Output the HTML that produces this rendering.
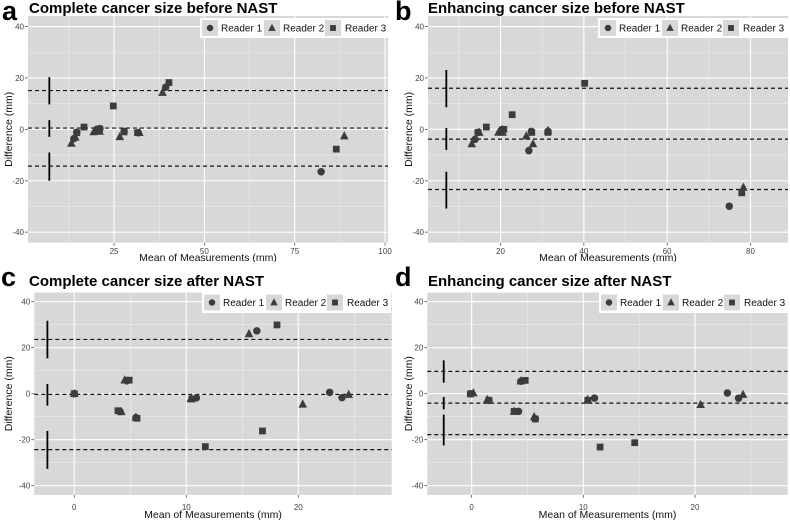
<!DOCTYPE html>
<html><head><meta charset="utf-8">
<style>
html,body{margin:0;padding:0;background:#fff;}
svg{display:block;font-family:"Liberation Sans",Arial,sans-serif;}
</style></head>
<body>
<svg id="fig" width="790" height="520" viewBox="0 0 790 520"></svg>
<script>
// ---------- data ----------
const yTicks = [-40,-20,0,20,40];
const panelTitles = ["Complete cancer size before NAST","Enhancing cancer size before NAST","Complete cancer size after NAST","Enhancing cancer size after NAST"];
const panelLetters = ["a","b","c","d"];
const readerNames = ["Reader 1","Reader 2","Reader 3"];

const aXTicks = [25,50,75,100];
const aR1Mean = [13.9,20.2,27.8,31.7,39.3,82.3,14.7,21.1];
const aR1Diff = [-3.6,0,-0.8,-1.3,16.4,-16.5,-1.2,0.3];
const aR2Mean = [13.2,19.4,21,26.6,32,38.4,88.7,14.3];
const aR2Diff = [-5.5,-1,-0.8,-2.9,-1.3,14.3,-2.6,-3.1];
const aR3Mean = [14.7,16.7,21,24.8,27.8,31.5,40.2,86.5];
const aR3Diff = [-1.3,0.9,0.1,9.1,-1,-1.3,18.2,-7.7];
const aLines = [15.1,0.5,-14.3];
const aCiX = 7.1;
const aCiTop = [20.3,3.6,-9];
const aCiBottom = [9.7,-2.9,-20];

const bXTicks = [20,40,60,80];
const bR1Mean = [13.9,20.4,26.8,27.4,31.4,74.9,14.6];
const bR1Diff = [-3.9,0,-8.3,-0.8,-0.8,-29.9,-1.2];
const bR2Mean = [13.1,19.5,20.5,26.2,27.8,31.4,78.3,14.9];
const bR2Diff = [-5.7,-1.2,-1.2,-2.6,-5.7,-0.5,-22.6,-1.2];
const bR3Mean = [14.6,16.6,20.8,22.8,27.5,31.4,40.2,77.9];
const bR3Diff = [-1.2,0.9,0,5.7,-1.2,-1.2,17.9,-24.7];
const bLines = [16,-3.8,-23.4];
const bCiX = 7;
const bCiTop = [23.1,0.5,-16.5];
const bCiBottom = [8.6,-8,-30.8];

const cXTicks = [0,10,20];
const cR1Mean = [0,4.7,4.1,5.5,10.9,16.3,22.8,23.9];
const cR1Diff = [0,5.6,-7.8,-10.4,-1.8,27.3,0.6,-1.7];
const cR2Mean = [0,4.5,4.2,5.5,10.4,15.6,20.4,24.5];
const cR2Diff = [0,5.9,-7.9,-10.3,-2.2,26,-4.6,-0.4];
const cR3Mean = [0,4.9,3.9,5.6,10.5,11.7,16.8,18.1];
const cR3Diff = [0,5.9,-7.4,-10.7,-2.3,-23,-16.2,29.9];
const cLines = [23.6,-0.3,-24.3];
const cCiX = -2.4;
const cCiTop = [31.7,4.2,-16.2];
const cCiBottom = [15.4,-5.2,-32.7];

const dXTicks = [0,10,20];
const dR1Mean = [-0.1,1.55,4.2,4.4,5.7,11.0,22.9,23.9];
const dR1Diff = [0,-2.9,-7.7,5.4,-10.9,-1.9,0.3,-2.0];
const dR2Mean = [0.15,1.4,3.8,4.4,5.6,10.4,20.5,24.3];
const dR2Diff = [0.3,-2.6,-7.7,5.5,-10.1,-2.6,-4.8,-0.4];
const dR3Mean = [-0.1,1.55,3.8,4.8,5.7,10.4,11.5,14.6];
const dR3Diff = [-0.1,-2.9,-7.7,5.8,-11,-2.9,-23.2,-21.3];
const dLines = [9.7,-4.1,-17.8];
const dCiX = -2.5;
const dCiTop = [14.5,-1.4,-9.1];
const dCiBottom = [4.8,-6.8,-22.5];

// ---------- layout ----------
const NS = "http://www.w3.org/2000/svg";
const svg = document.getElementById("fig");
function mk(tag, attrs, parent){
  const e = document.createElementNS(NS, tag);
  for (const k in attrs) e.setAttribute(k, attrs[k]);
  (parent||svg).appendChild(e);
  return e;
}

const panels = [
  {key:"a", xTicks:aXTicks, xDom:[1.2,100.8], yDom:[-44.1,44.1], px:[28,388], py:[242.7,16],
   series:[[aR1Mean,aR1Diff],[aR2Mean,aR2Diff],[aR3Mean,aR3Diff]], lines:aLines, ciX:aCiX, ciTop:aCiTop, ciBot:aCiBottom,
   letterPos:[2,20], titlePos:[29,13], legend:[200,18,188,20], tickY:254, xTitleY:263, yTitleX:12, top:0},
  {key:"b", xTicks:bXTicks, xDom:[2.6,89], yDom:[-44.1,44.1], px:[428,788], py:[242.7,16],
   series:[[bR1Mean,bR1Diff],[bR2Mean,bR2Diff],[bR3Mean,bR3Diff]], lines:bLines, ciX:bCiX, ciTop:bCiTop, ciBot:bCiBottom,
   letterPos:[395,20], titlePos:[428,13], legend:[598,18,190,20], tickY:254, xTitleY:263, yTitleX:412, top:0},
  {key:"c", xTicks:cXTicks, xDom:[-3.57,28.34], yDom:[-44,44], px:[34.3,391.7], py:[494.9,292.5],
   series:[[cR1Mean,cR1Diff],[cR2Mean,cR2Diff],[cR3Mean,cR3Diff]], lines:cLines, ciX:cCiX, ciTop:cCiTop, ciBot:cCiBottom,
   letterPos:[1,286], titlePos:[29,286], legend:[202,292,189,21], tickY:510, xTitleY:520, yTitleX:12, top:262},
  {key:"d", xTicks:dXTicks, xDom:[-3.97,28.3], yDom:[-44,44], px:[427.3,787.7], py:[494.9,292.5],
   series:[[dR1Mean,dR1Diff],[dR2Mean,dR2Diff],[dR3Mean,dR3Diff]], lines:dLines, ciX:dCiX, ciTop:dCiTop, ciBot:dCiBottom,
   letterPos:[395,286], titlePos:[428,286], legend:[599,292,189,21], tickY:510, xTitleY:520, yTitleX:412, top:262}
];

const BG = "#d8d8d8", PT = "#3c3c3c";

function drawMarker(g, shape, x, y, size){
  let e;
  if (shape===0){ e = mk("circle",{cx:x,cy:y,r:size*0.5,fill:PT},g); }
  else if (shape===1){
    const h=size*1.05, w=size*1.15;
    e = mk("polygon",{points:`${x},${y-h*0.62} ${x-w/2},${y+h*0.42} ${x+w/2},${y+h*0.42}`,fill:PT},g);
  } else { e = mk("rect",{x:x-size*0.45,y:y-size*0.45,width:size*0.9,height:size*0.9,fill:PT},g); }
  return e;
}

panels.forEach((p, pi) => {
  const g = mk("g",{});
  
  
  if (p.top>0) mk("rect",{x:pi===2?0:395,y:p.top,width:395,height:258,fill:"#fff"},g);

  const sx = v => p.px[0] + (v - p.xDom[0])/(p.xDom[1]-p.xDom[0])*(p.px[1]-p.px[0]);
  const sy = v => p.py[0] + (v - p.yDom[0])/(p.yDom[1]-p.yDom[0])*(p.py[1]-p.py[0]);

  const plot = mk("rect",{x:p.px[0],y:p.py[1],width:p.px[1]-p.px[0],height:p.py[0]-p.py[1],fill:BG},g);
  
  

  const xs = p.xTicks[1]-p.xTicks[0];
  const xMinor = [p.xTicks[0]-xs/2].concat(p.xTicks.map(t=>t+xs/2));
  xMinor.forEach(v=>{ if(v>p.xDom[0]&&v<p.xDom[1]) mk("line",{x1:sx(v),x2:sx(v),y1:p.py[1],y2:p.py[0],stroke:"#ececec","stroke-width":0.6},g); });
  [-30,-10,10,30].forEach(v=>mk("line",{x1:p.px[0],x2:p.px[1],y1:sy(v),y2:sy(v),stroke:"#ececec","stroke-width":0.6},g));
  p.xTicks.forEach(v=>{
    mk("line",{x1:sx(v),x2:sx(v),y1:p.py[1],y2:p.py[0],stroke:"#fff","stroke-width":1.1},g);
    mk("line",{x1:sx(v),x2:sx(v),y1:p.py[0],y2:p.py[0]+3,stroke:"#555","stroke-width":0.8},g);
    const t = mk("text",{x:sx(v),y:p.tickY,"font-size":8,fill:"#444","text-anchor":"middle"},g);
    t.textContent = v;
    
    
  });
  yTicks.forEach(v=>{
    mk("line",{x1:p.px[0],x2:p.px[1],y1:sy(v),y2:sy(v),stroke:"#fff","stroke-width":1.1},g);
    mk("line",{x1:p.px[0]-3,x2:p.px[0],y1:sy(v),y2:sy(v),stroke:"#555","stroke-width":0.8},g);
    const t = mk("text",{x:p.px[0]-4,y:sy(v)+3,"font-size":8,fill:"#444","text-anchor":"end"},g);
    t.textContent = v;
    
    
  });

  p.lines.forEach((v,i)=>{
    const l = mk("line",{x1:p.px[0],x2:p.px[1],y1:sy(v),y2:sy(v),stroke:"#111","stroke-width":1.2,"stroke-dasharray":"4,3"},g);
    
    
  });
  p.ciTop.forEach((v,i)=>{
    const l = mk("line",{x1:sx(p.ciX),x2:sx(p.ciX),y1:sy(v),y2:sy(p.ciBot[i]),stroke:"#000","stroke-width":1.8},g);
    
    
  });

  p.series.forEach((s,si)=>{
    s[0].forEach((m,k)=>{
      const e = drawMarker(g, si, sx(m), sy(s[1][k]), 7.5);
      
      
    });
  });

  const [lx,ly,lw,lh] = p.legend;
  const lg = mk("g",{},g);
  
  
  mk("rect",{x:lx,y:ly,width:lw,height:lh,fill:"#fff"},lg);
  const offs = [[10,21],[72,83],[133,145]];
  offs.forEach(o=>{ mk("rect",{x:lx+o[0]-8,y:ly+lh/2-8,width:16,height:16,fill:BG},lg); });
  offs.forEach((o,si)=>{
    drawMarker(lg, si, lx+o[0], ly+lh/2, 6.5);
    const t = mk("text",{x:lx+o[1],y:ly+lh/2+3.5,"font-size":10,fill:"#111"},lg);
    t.textContent = readerNames[si];
    
    
  });

  const L = mk("text",{x:p.letterPos[0],y:p.letterPos[1],"font-size":27,"font-weight":"bold",fill:"#000"},g);
  L.textContent = panelLetters[pi];
  
  
  const T = mk("text",{x:p.titlePos[0],y:p.titlePos[1],"font-size":15,"font-weight":"bold",fill:"#000"},g);
  T.textContent = panelTitles[pi];
  
  
  const XT = mk("text",{x:(p.px[0]+p.px[1])/2,y:p.xTitleY-2,"font-size":10.5,fill:"#111","text-anchor":"middle"},g);
  XT.textContent = "Mean of Measurements (mm)";
  
  
  const cy = (p.py[0]+p.py[1])/2;
  const YT = mk("text",{x:p.yTitleX,y:cy,"font-size":10.5,fill:"#111","text-anchor":"middle",transform:`rotate(-90 ${p.yTitleX} ${cy})`},g);
  YT.textContent = "Difference (mm)";
  
  
});
</script>
</body></html>
